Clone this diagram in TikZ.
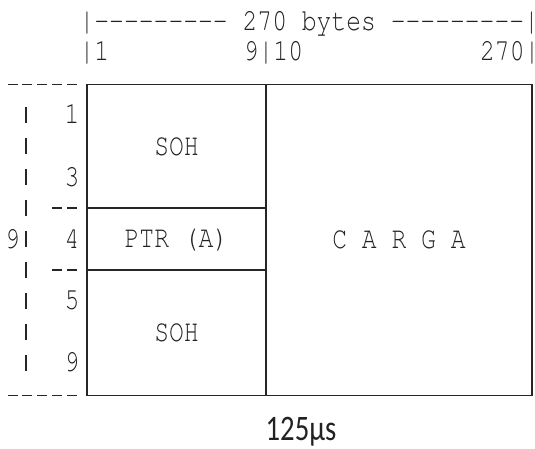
\documentclass[tikz,border=0pt]{standalone}
\usepackage[T1,TU]{fontenc}
\usepackage{fontspec}
\usepackage{graphicx}
\newfontfamily\carl{Carlito}
\newcommand\cour{\fontencoding{T1}\fontfamily{pcr}\fontseries{m}\fontshape{n}\fontsize{24.7}{30}\selectfont}
\newcommand\tallt[1]{\scalebox{1}[1.25]{#1}}
\newcommand\ninedash{-{}-{}-{}-{}-{}-{}-{}-{}-{}}
\definecolor{ink}{HTML}{262626}
\definecolor{txt}{HTML}{222222}
\tikzset{
  mono/.style={font=\cour, text=txt, inner sep=0pt, outer sep=0pt},
  cell/.style={draw=ink, line width=1.3pt, inner sep=0pt, outer sep=0pt},
  dashrow/.style={draw=ink, line width=1.2pt, dash pattern=on 10pt off 4.83pt},
  dashcol/.style={draw=ink, line width=1.2pt, dash pattern=on 16pt off 15pt}
}
\begin{document}
\begin{tikzpicture}[x=1pt,y=-1pt]
\useasboundingbox (0,0) rectangle (535,449);
% header
\node[mono, anchor=base west] (hdr) at (79.6,30.5) {\tallt{|\ninedash{} 270 bytes \ninedash\rlap{|}}};
\node[mono, anchor=base west] (c1) at (79.6,61) {\tallt{|1}};
\node[mono, anchor=base west] (c9) at (243.8,61) {\tallt{9|10}};
\node[mono, anchor=base east] (c270) at (524.6,61) {\tallt{270\rlap{|}}};
% cells
\node[cell, minimum width=179pt, minimum height=123.5pt] (soha) at (176.5,146.25) {\cour\color{txt}\tallt{SOH}};
\node[cell, minimum width=179pt, minimum height=62pt] (ptr) at (176.5,239) {\cour\color{txt}\tallt{PTR (A)}};
\node[cell, minimum width=179pt, minimum height=125.5pt] (sohb) at (176.5,332.75) {\cour\color{txt}\tallt{SOH}};
\node[cell, minimum width=266pt, minimum height=311pt] (carga) at (399,240) {\cour\color{txt}\tallt{C A R G A}};
% row labels
\node[mono, anchor=base] (r1) at (72.1,124) {\tallt{1}};
\node[mono, anchor=base] (r3) at (72.1,186) {\tallt{3}};
\node[mono, anchor=base] (r4) at (72.1,248) {\tallt{4}};
\node[mono, anchor=base] (r5) at (72.1,309) {\tallt{5}};
\node[mono, anchor=base] (r9) at (72.1,371) {\tallt{9}};
\node[mono, anchor=base] (nine) at (12.5,248) {\tallt{9}};
% left dashed marks
\draw[dashrow] (7.5,84.5) -- (77.2,84.5);
\draw[dashrow] (7.5,395.5) -- (77.2,395.5);
\draw[dashrow] (52.3,208) -- (77.2,208);
\draw[dashrow] (52.3,270) -- (77.2,270);
\draw[dashcol] (26,107) -- (26,372);
% time
\node[inner sep=0pt, anchor=base, text=txt, font=\carl\fontsize{28.7}{32}\selectfont] (t) at (301,440) {\tallt{125µs}};
\end{tikzpicture}
\end{document}
